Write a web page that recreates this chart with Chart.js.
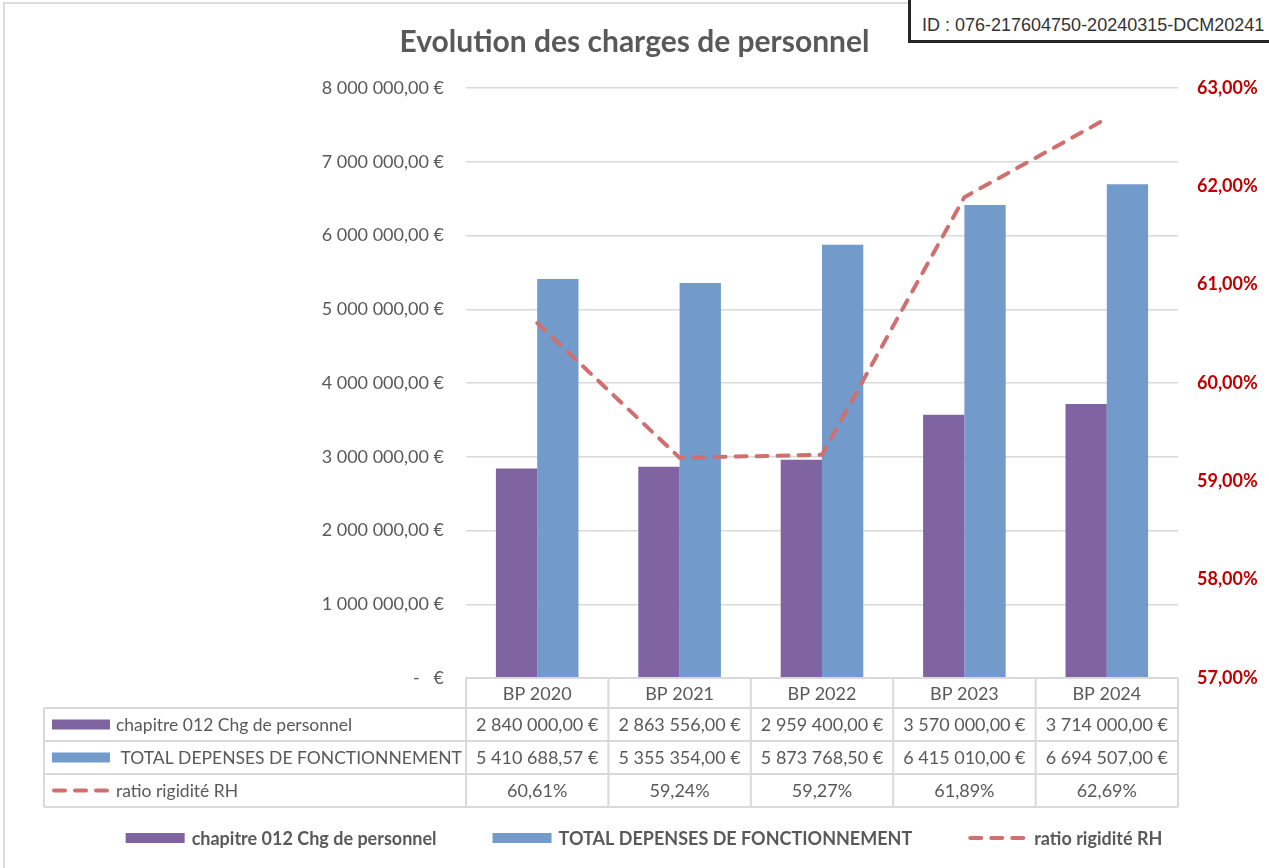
<!DOCTYPE html>
<html lang="fr">
<head>
<meta charset="utf-8">
<title>Evolution des charges de personnel</title>
<script src="https://cdn.jsdelivr.net/npm/chart.js@4.4.1/dist/chart.umd.min.js"></script>
<style>
	html, body { margin: 0; padding: 0; background: #fff; overflow: hidden; }
	#wrap { position: relative; width: 1269px; height: 868px; }
	#idBox {
		position: absolute; left: 908px; top: -4px; width: 420px; height: 47px;
		border: 3px solid #262626; background: #fff; box-sizing: border-box;
		font-family: "Liberation Sans", Arial, sans-serif; font-size: 18px; color: #333;
		padding: 16px 0 0 11px; white-space: nowrap; overflow: hidden; line-height: 21px;
	}
</style>
</head>
<body>
<div id="wrap">
	<canvas id="chargesChart" width="1269" height="868"></canvas>
	<div id="idBox">ID : 076-217604750-20240315-DCM20241</div>
</div>
<script>
// données
const categories = ["BP 2020", "BP 2021", "BP 2022", "BP 2023", "BP 2024"];
const chargesPersonnel = [2840000.00, 2863556.00, 2959400.00, 3570000.00, 3714000.00];
const depensesFonctionnement = [5410688.57, 5355354.00, 5873768.50, 6415010.00, 6694507.00];
const ratioRH = [60.61, 59.24, 59.27, 61.89, 62.69];
const seriesNames = ["chapitre 012 Chg de personnel", " TOTAL DEPENSES DE FONCTIONNEMENT", "ratio rigidité RH"];

const purple = "#8064a2";
const blue = "#729acb";
const red = "#d0706e";
const gridGray = "#d9d9d9";
const textGray = "#595959";
const fontName = "Lato, 'Open Sans', sans-serif";

// format "8 000 000,00 €"
function euro(v) {
	if (v === 0) return "-   €";
	let parts = v.toFixed(2).split(".");
	let ent = parts[0].replace(/\B(?=(\d{3})+(?!\d))/g, " ");
	return ent + "," + parts[1] + " €";
}
function pct(v) {
	return v.toFixed(2).replace(".", ",") + "%";
}

// petit dessin de légende (boîte ou pointillé)
function drawKey(ctx, type, x, y, w) {
	ctx.save();
	if (type === "line") {
		ctx.strokeStyle = red;
		ctx.lineWidth = 4;
		ctx.lineCap = "round";
		ctx.setLineDash([11, 10]);
		ctx.beginPath();
		ctx.moveTo(x + 2, y);
		ctx.lineTo(x + w, y);
		ctx.stroke();
	} else {
		ctx.fillStyle = type === "bar1" ? purple : blue;
		ctx.fillRect(x, y - 5, w, 10);
	}
	ctx.restore();
}

// tableau de données + légende du bas
const tablePlugin = {
	id: "tablePlugin",
	beforeDraw(chart) {
		const ctx = chart.ctx;
		ctx.save();
		ctx.strokeStyle = "#dcdcdc";
		ctx.lineWidth = 2;
		ctx.strokeRect(4, 3, 1400, 1000);
		ctx.restore();
	},
	afterDraw(chart) {
		const ctx = chart.ctx;
		const area = chart.chartArea;
		const xs = chart.scales.x;
		const step = (area.right - area.left) / categories.length;
		const top = area.bottom;
		const headH = 30;
		const rowH = 33;
		const leftX = 44;
		const rows = [chargesPersonnel, depensesFonctionnement, ratioRH];
		const keys = ["bar1", "bar2", "line"];

		ctx.save();
		ctx.strokeStyle = gridGray;
		ctx.lineWidth = 2;
		ctx.beginPath();
		// en-tête
		ctx.moveTo(area.left, top);
		ctx.lineTo(area.right, top);
		for (let r = 0; r <= 3; r++) {
			let y = top + headH + r * rowH;
			ctx.moveTo(leftX, y);
			ctx.lineTo(area.right, y);
		}
		ctx.moveTo(leftX, top + headH);
		ctx.lineTo(leftX, top + headH + 3 * rowH);
		for (let c = 0; c <= categories.length; c++) {
			let x = area.left + c * step;
			ctx.moveTo(x, top);
			ctx.lineTo(x, top + headH + 3 * rowH);
		}
		ctx.stroke();

		ctx.fillStyle = textGray;
		ctx.font = "18px " + fontName;
		ctx.textBaseline = "middle";
		ctx.textAlign = "center";
		categories.forEach((cat, i) => {
			let cx = xs.getPixelForValue(i);
			ctx.fillText(cat, cx, top + headH / 2 + 1);
			rows.forEach((row, r) => {
				let txt = r === 2 ? pct(row[i]) : euro(row[i]);
				ctx.fillText(txt, cx, top + headH + r * rowH + rowH / 2 + 1);
			});
		});
		ctx.textAlign = "left";
		ctx.font = "17.5px " + fontName;
		rows.forEach((row, r) => {
			let y = top + headH + r * rowH + rowH / 2;
			drawKey(ctx, keys[r], 52, y, 58);
			ctx.fillStyle = textGray;
			ctx.fillText(seriesNames[r], 116, y + 1);
		});

		// légende du bas
		ctx.font = "bold 18px " + fontName;
		const boxW = 59, gapIn = 7, gapOut = 56;
		let names = seriesNames.map(n => n.trim());
		let total = 0;
		names.forEach((n, i) => {
			total += boxW + gapIn + ctx.measureText(n).width + (i < names.length - 1 ? gapOut : 0);
		});
		let x = 644 - total / 2;
		const ly = 838;
		names.forEach((n, i) => {
			drawKey(ctx, keys[i], x, ly, boxW);
			x += boxW + gapIn;
			ctx.fillStyle = textGray;
			ctx.fillText(n, x, ly + 1);
			x += ctx.measureText(n).width + gapOut;
		});
		ctx.restore();
	}
};

const ctx = document.getElementById("chargesChart").getContext("2d");

const chart = new Chart(ctx, {
	type: "bar",
	data: {
		labels: categories,
		datasets: [
			{
				type: "line",
				label: seriesNames[2],
				data: ratioRH,
				yAxisID: "y1",
				borderColor: red,
				borderWidth: 4,
				borderDash: [11, 10],
				borderCapStyle: "round",
				pointRadius: 0,
				fill: false,
				tension: 0,
				order: 0
			},
			{
				label: seriesNames[0],
				data: chargesPersonnel,
				yAxisID: "y",
				backgroundColor: purple,
				categoryPercentage: 0.58,
				barPercentage: 1,
				order: 1
			},
			{
				label: seriesNames[1],
				data: depensesFonctionnement,
				yAxisID: "y",
				backgroundColor: blue,
				categoryPercentage: 0.58,
				barPercentage: 1,
				order: 1
			}
		]
	},
	options: {
		responsive: false,
		animation: false,
		devicePixelRatio: 1,
		layout: {
			padding: { top: 0, left: 0, right: 0, bottom: 190 }
		},
		plugins: {
			legend: { display: false },
			tooltip: { enabled: false },
			title: {
				display: true,
				text: "Evolution des charges de personnel",
				color: textGray,
				font: { family: fontName, size: 30, weight: "bold", lineHeight: 1.2 },
				padding: { top: 24, bottom: 28 }
			}
		},
		scales: {
			x: {
				ticks: { display: false },
				grid: { display: false, drawTicks: false },
				border: { display: false },
				afterFit(axis) { axis.height = 0; }
			},
			y: {
				position: "left",
				min: 0,
				max: 8000000,
				ticks: {
					stepSize: 1000000,
					padding: 22,
					color: textGray,
					font: { family: fontName, size: 18 },
					callback: (v) => euro(v)
				},
				grid: { color: gridGray, lineWidth: 1.5, drawTicks: false },
				border: { display: false },
				afterFit(axis) { axis.width = 466; }
			},
			y1: {
				position: "right",
				min: 57,
				max: 63,
				ticks: {
					stepSize: 1,
					padding: 19,
					color: "#c00000",
					font: { family: fontName, size: 18, weight: "bold" },
					callback: (v) => pct(v)
				},
				grid: { drawOnChartArea: false, drawTicks: false },
				border: { display: false },
				afterFit(axis) { axis.width = 91; }
			}
		}
	},
	plugins: [tablePlugin]
});
</script>
</body>
</html>
